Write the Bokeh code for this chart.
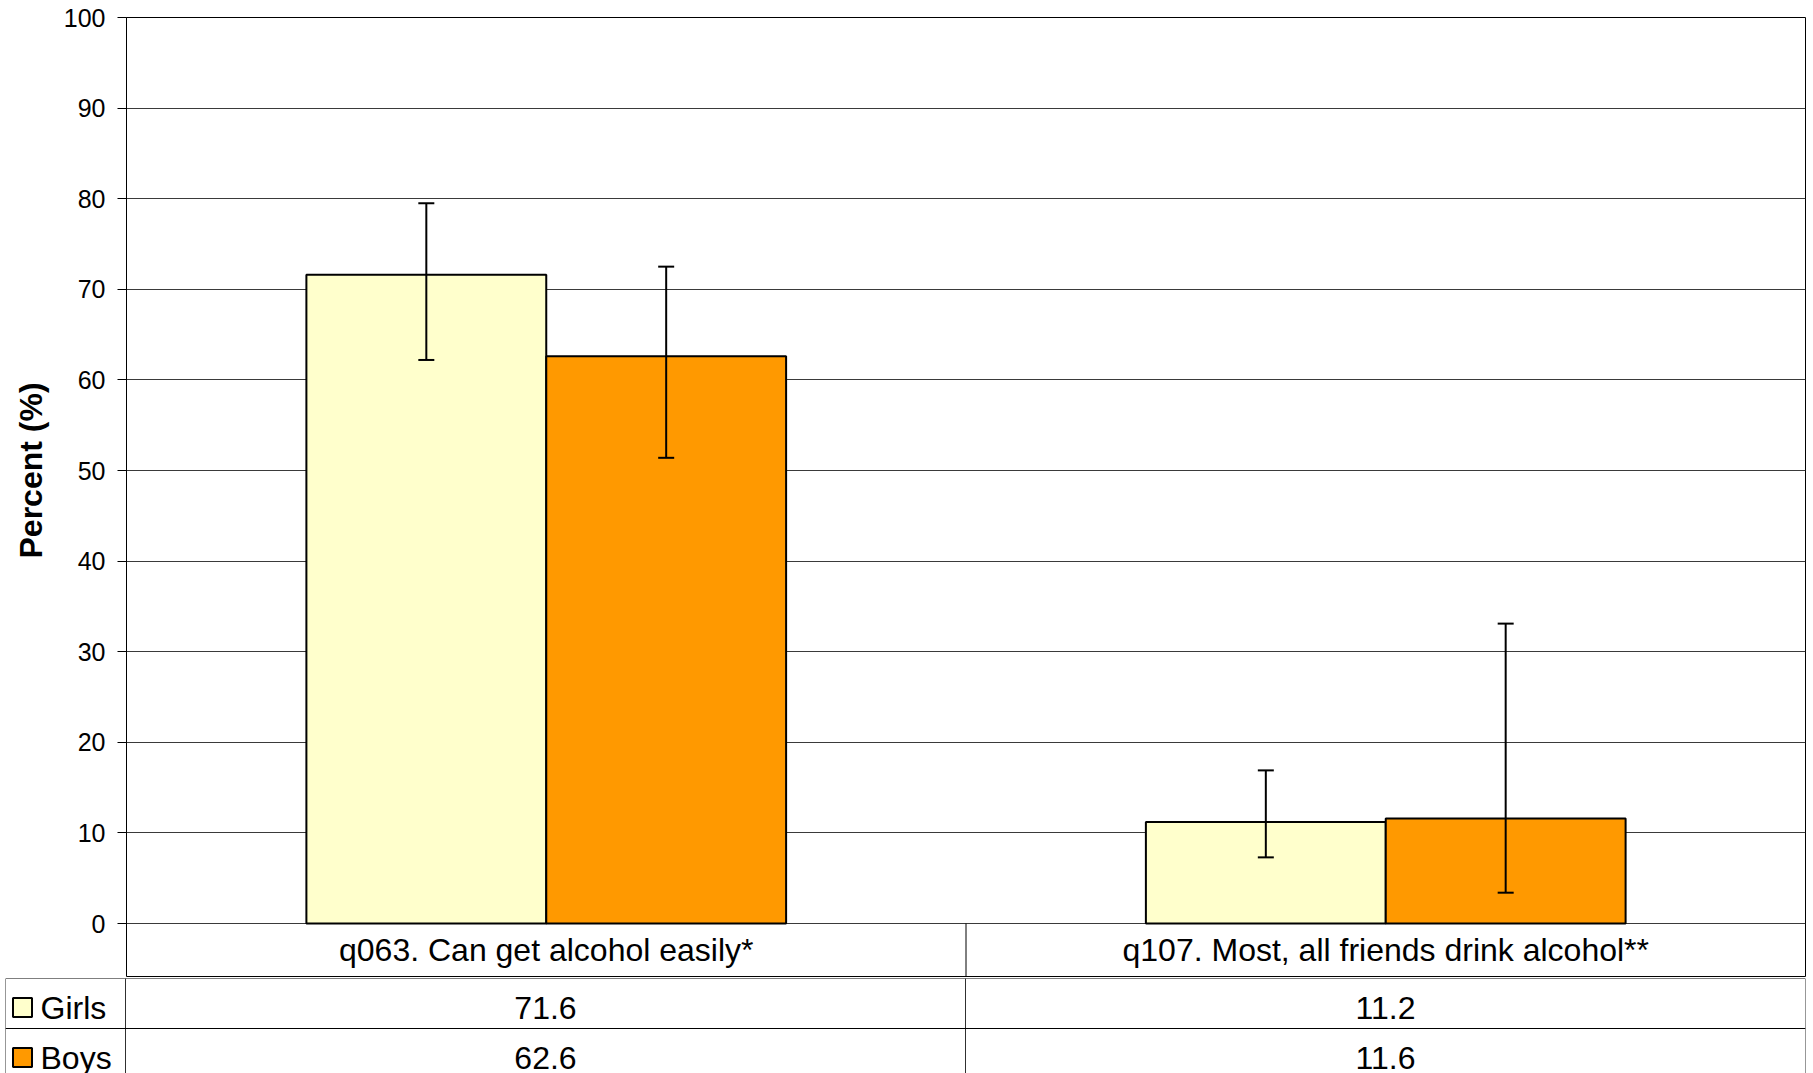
import numpy as np
from bokeh.plotting import figure
from bokeh.models import ColumnDataSource, Range1d, FixedTicker, Whisker, TeeHead, Span, Title
from bokeh.layouts import column
from bokeh.embed import file_html
from bokeh.resources import INLINE
from bokeh.core.properties import value

# ---------------- data ----------------
categories = ["q063. Can get alcohol easily*", "q107. Most, all friends drink alcohol**"]
series_names = ["Girls", "Boys"]
girls = [71.6, 11.2]
boys = [62.6, 11.6]
girls_lower = [62.2, 7.3]
girls_upper = [79.5, 16.9]
boys_lower = [51.4, 3.4]
boys_upper = [72.5, 33.1]
y_ticks = [0, 10, 20, 30, 40, 50, 60, 70, 80, 90, 100]
y_title = "Percent (%)"
colors = ["#FFFFCC", "#FF9900"]

FONT = "Liberation Sans"

# ---------------- layout constants ----------------
W = 1813
CHART_H = 977
TOP = 17
LEFT = 125
RIGHT = 8
frame_w = W - LEFT - RIGHT
frame_h = CHART_H - TOP
plot_px = 906                      # pixels for 0..100
cat_row_px = frame_h - plot_px     # category row height
ppu_y = plot_px / 100.0
y_start = -cat_row_px / ppu_y

n = len(categories)
xc = np.arange(n) + 0.5
bar_w = 1 / 3.5
ppu_x = frame_w / n

# ---------------- chart ----------------
p = figure(width=W, height=CHART_H, title=None,
           x_range=Range1d(0, n), y_range=Range1d(y_start, 100),
           x_axis_location=None, y_axis_location="left",
           output_backend="svg", toolbar_location=None,
           min_border_left=LEFT, min_border_right=RIGHT,
           min_border_top=TOP, min_border_bottom=0, frame_align=False)
p.background_fill_color = "white"
p.border_fill_color = "white"
p.outline_line_color = "black"
p.outline_line_width = 1

p.xgrid.visible = False
p.ygrid.ticker = FixedTicker(ticks=y_ticks)
p.ygrid.grid_line_color = "#3a3a3a"
p.ygrid.grid_line_width = 1

ax = p.yaxis[0]
ax.ticker = FixedTicker(ticks=y_ticks)
ax.bounds = (y_ticks[0], y_ticks[-1])
ax.axis_line_color = "black"
ax.axis_line_width = 1
ax.major_tick_in = 0
ax.major_tick_out = 9
ax.major_tick_line_color = "black"
ax.minor_tick_line_color = None
ax.major_label_text_font = FONT
ax.major_label_text_font_size = "25px"
ax.major_label_text_color = "black"
ax.major_label_standoff = 12

# axis title, centred on the 0..100 part of the axis (offset from frame bottom)
p.add_layout(Title(text=y_title, align="left", vertical_align="middle",
                   offset=cat_row_px + plot_px / 2 - 88, standoff=22,
                   text_font=FONT, text_font_size="32px", text_font_style="bold",
                   text_color="black"), "left")

src_g = ColumnDataSource(dict(x=xc - bar_w / 2, top=girls, lo=girls_lower, hi=girls_upper))
src_b = ColumnDataSource(dict(x=xc + bar_w / 2, top=boys, lo=boys_lower, hi=boys_upper))

for src, col in ((src_g, colors[0]), (src_b, colors[1])):
    p.vbar(x="x", top="top", bottom=0, width=bar_w, source=src,
           fill_color=col, line_color="black", line_width=2)
for src in (src_g, src_b):
    p.add_layout(Whisker(source=src, base="x", upper="hi", lower="lo",
                         level="overlay",
                         line_color="black", line_width=2,
                         upper_head=TeeHead(size=16, line_color="black", line_width=2),
                         lower_head=TeeHead(size=16, line_color="black", line_width=2)))

# category row (inside chart frame, below 0)
div_x = list(np.arange(1, n))
p.segment(x0=div_x, y0=[y_start] * len(div_x), x1=div_x, y1=[0] * len(div_x),
          line_color="black", line_width=1)
p.text(x=xc, y=[-26.5 / ppu_y] * n, text=categories,
       text_align="center", text_baseline="middle",
       text_font=value(FONT), text_font_size="32px", text_color="black")

# ---------------- data table ----------------
TABLE_H = 1073 - CHART_H
T_TOP = 1
T_LEFT = 5
ROW_PX = 50
t_start = -(LEFT - T_LEFT) / ppu_x
t = figure(width=W, height=TABLE_H, title=None,
           x_range=Range1d(t_start, n),
           y_range=Range1d(2 - (TABLE_H - T_TOP) / ROW_PX, 2),
           x_axis_location=None, y_axis_location=None,
           output_backend="svg", toolbar_location=None,
           min_border_left=T_LEFT, min_border_right=RIGHT,
           min_border_top=T_TOP, min_border_bottom=0, frame_align=False)
t.outline_line_color = None
t.xgrid.visible = False
t.ygrid.visible = False
t.background_fill_color = "white"
t.border_fill_color = "white"

row_base = [1, 0]   # Girls row, Boys row (bottom of each row in table units)
values = [girls, boys]

for loc in [t_start] + list(range(n + 1)):
    t.add_layout(Span(location=loc, dimension="height", line_color="#303030", line_width=1))
for loc in (2, 1):
    t.add_layout(Span(location=loc, dimension="width", line_color="black", line_width=1))

legend_text_x = t_start + 35 / ppu_x
swatch_x = t_start + 17 / ppu_x
for rb, name, vals, col in zip(row_base, series_names, values, colors):
    t.rect(x=[swatch_x], y=[rb + 0.42], width=19, height=19,
           width_units="screen", height_units="screen",
           fill_color=col, line_color="black", line_width=2)
    t.text(x=[legend_text_x], y=[rb + 0.42], text=[name],
           text_align="left", text_baseline="middle",
           text_font=value(FONT), text_font_size="32px", text_color="black")
    t.text(x=xc, y=[rb + 0.42] * n, text=[f"{v:.1f}" for v in vals],
           text_align="center", text_baseline="middle",
           text_font=value(FONT), text_font_size="32px", text_color="black")

layout = column(p, t, spacing=0)
open("out.html", "w").write(file_html(layout, INLINE))
